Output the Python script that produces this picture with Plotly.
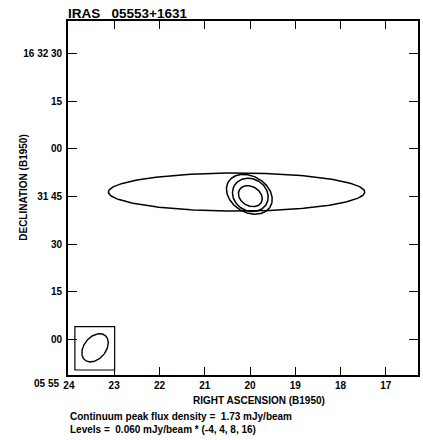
import numpy as np
import plotly.graph_objects as go

# ---- data ----
# RA in seconds of time (05 55 ss), Dec as arcsec offset from 16 31 00 (B1950)
ra_ticks = [24, 23, 22, 21, 20, 19, 18, 17]
ra_ticktext = ["24", "23", "22", "21", "20", "19", "18", "17"]
dec_ticks = [0, 15, 30, 45, 60, 75, 90]
dec_ticktext = ["00", "15", "30", "31 45", "00", "15", "16 32 30"]

# contours: centre RA (s), centre Dec offset ("), semi-major ("), semi-minor ("), PA (deg, N through E)
contour_ra = [20.297, 20.015, 19.993, 19.993]
contour_dec = [46.4, 45.7, 45.5, 45.1]
contour_major = [40.7, 7.73, 5.87, 4.0]
contour_minor = [6.0, 5.71, 5.05, 3.05]
contour_pa = [90.0, 60.0, 60.0, 60.0]

# synthesized beam
beam_ra, beam_dec = 23.422, -2.68
beam_major, beam_minor, beam_pa = 5.05, 3.47, -40.0
beam_box_ra = [23.868, 22.99]
beam_box_dec = [-9.67, 3.97]

ra_range = [24.02, 16.29]
dec_range = [-11.25, 100.3]

COS_DEC = np.cos(np.deg2rad(16.525))


def ellipse(ra0, dec0, a, b, pa):
    t = np.linspace(0, 2 * np.pi, 241)
    p = np.deg2rad(pa)
    u = a * np.cos(t)
    v = b * np.sin(t)
    east = u * np.sin(p) - v * np.cos(p)
    north = u * np.cos(p) + v * np.sin(p)
    return ra0 + east / (15.0 * COS_DEC), dec0 + north


fig = go.Figure()
for r, d, a, b, p in zip(contour_ra, contour_dec, contour_major, contour_minor, contour_pa):
    x, y = ellipse(r, d, a, b, p)
    fig.add_trace(go.Scatter(x=x, y=y, mode="lines", line=dict(color="black", width=1.5),
                             hoverinfo="skip", showlegend=False))
bx, by = ellipse(beam_ra, beam_dec, beam_major, beam_minor, beam_pa)
fig.add_trace(go.Scatter(x=bx, y=by, mode="lines", line=dict(color="black", width=1.4),
                         hoverinfo="skip", showlegend=False))
fig.add_shape(type="rect", xref="x", yref="y",
              x0=beam_box_ra[0], x1=beam_box_ra[1], y0=beam_box_dec[0], y1=beam_box_dec[1],
              line=dict(color="black", width=1.2))

FONT = "Liberation Sans, Arial, sans-serif"
tickfont = dict(family=FONT, size=10, color="black", weight="bold")

fig.update_layout(
    width=423, height=440,
    margin=dict(l=68, r=3, t=21, b=65),
    paper_bgcolor="white", plot_bgcolor="white",
    showlegend=False,
    xaxis=dict(range=ra_range, tickvals=ra_ticks, ticktext=ra_ticktext, ticks="inside",
               ticklen=8, tickwidth=1.3, tickcolor="black", showline=True, linecolor="black",
               linewidth=1.6, mirror="ticks", showgrid=False, zeroline=False, tickfont=tickfont),
    yaxis=dict(range=dec_range, tickvals=dec_ticks, ticktext=dec_ticktext, ticks="inside",
               ticklen=9, tickwidth=1.3, tickcolor="black", showline=True, linecolor="black",
               linewidth=1.6, mirror="ticks", showgrid=False, zeroline=False, tickfont=tickfont,
               ticklabelstandoff=2),
)

def ann(text, x, y, size=10, xanchor="left", yanchor="middle", angle=0):
    fig.add_annotation(text=text, xref="paper", yref="paper", x=x, y=y, showarrow=False,
                       xanchor=xanchor, yanchor=yanchor, textangle=angle,
                       font=dict(family=FONT, size=size, color="black", weight="bold"))

px = lambda v: (v - 68) / 352.0
py = lambda v: (375 - v) / 354.0

ann("IRAS   05553+1631", px(66), py(13.5), size=13.5)
ann("DECLINATION (B1950)", px(22.5), py(187), xanchor="center", angle=-90)
ann("RIGHT ASCENSION (B1950)", px(259.7), py(400.7), xanchor="center")
ann("05 55", px(60.5), py(383.3), xanchor="right")
ann("Continuum peak flux density =  1.73 mJy/beam", px(67.5), py(416.7))
ann("Levels =  0.060 mJy/beam * (-4, 4, 8, 16)", px(67.5), py(429.3))

fig.write_html("out.html")
